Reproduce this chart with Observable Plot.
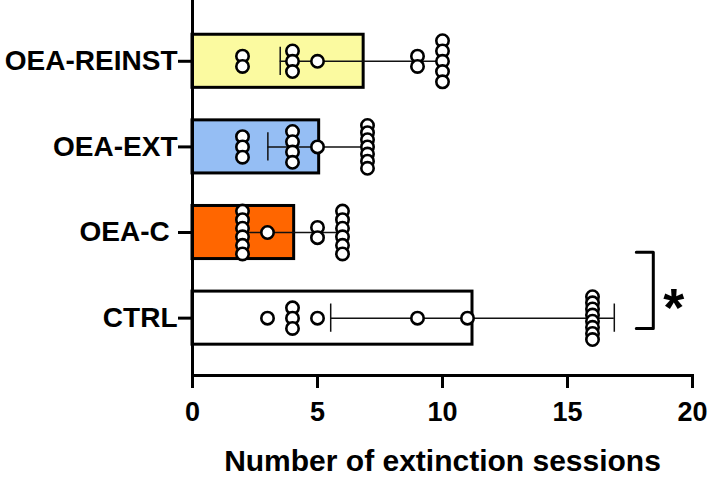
<!DOCTYPE html>
<html>
<head>
<meta charset="utf-8">
<script src="https://cdn.jsdelivr.net/npm/d3@7"></script>
<script src="https://cdn.jsdelivr.net/npm/@observablehq/plot@0.6"></script>
<style>
  html, body { margin: 0; padding: 0; background: #fff; }
</style>
</head>
<body>
<div id="chart"></div>
<script>
// ---- data ----
const groups = ["OEA-REINST", "OEA-EXT", "OEA-C", "CTRL"];
const yTickLabels = ["OEA-REINST", "OEA-EXT", "OEA-C\u00a0", "CTRL"];
const reinstValues = [2, 2, 4, 4, 4, 5, 9, 9, 10, 10, 10, 10, 10];
const extValues = [2, 2, 2, 4, 4, 4, 4, 5, 7, 7, 7, 7, 7, 7, 7];
const oeaCValues = [2, 2, 2, 2, 2, 2, 3, 5, 5, 6, 6, 6, 6, 6, 6];
const ctrlValues = [3, 4, 4, 4, 5, 9, 11, 16, 16, 16, 16, 16, 16, 16, 16];
const barFills = ["#FBFAA0", "#95BEF4", "#FF6600", "#FFFFFF"];
const xTicks = [0, 5, 10, 15, 20];
const xTitle = "Number of extinction sessions";
const significance = [{from: "OEA-C", to: "CTRL", label: "*"}];

const seriesValues = [reinstValues, extValues, oeaCValues, ctrlValues];

// ---- derived tables ----
const stats = groups.map((g, i) => {
  const v = seriesValues[i];
  const mean = d3.mean(v), sd = d3.deviation(v);
  return {group: g, row: i, mean, lo: mean - sd, hi: mean + sd, fill: barFills[i]};
});
const caps = stats.flatMap(d => [{row: d.row, x: d.lo}, {row: d.row, x: d.hi}]);

// stacked (centered) dot layout, like the scatter of the original graph
const points = [];
seriesValues.forEach((v, i) => {
  const counts = d3.rollup(v, a => a.length, d => d);
  const seen = new Map();
  for (const val of v) {
    const k = counts.get(val);
    const j = seen.get(val) || 0;
    seen.set(val, j + 1);
    const s = k > 1 ? Math.min(0.12, 0.5 / (k - 1)) : 0;
    points.push({row: i, value: val, off: (j - (k - 1) / 2) * s});
  }
});

const bracket = significance.map(s => {
  const r1 = groups.indexOf(s.from), r2 = groups.indexOf(s.to);
  const xi = d3.max(stats, d => d.hi) + 0.88;
  const xo = xi + 0.68;
  return {label: s.label, yTop: r1 + 0.23, yBot: r2 + 0.12, xi, xo};
});
const bracketLines = bracket.flatMap((b, k) => [
  {k, x: b.xi, y: b.yTop}, {k, x: b.xo, y: b.yTop},
  {k, x: b.xo, y: b.yBot}, {k, x: b.xi, y: b.yBot}
]);

const font = "'Liberation Sans', Arial, Helvetica, sans-serif";

const chart = Plot.plot({
  width: 708,
  height: 478,
  marginLeft: 192,
  marginRight: 16,
  marginTop: 0,
  marginBottom: 103,
  style: {fontFamily: font, fontWeight: "bold", color: "black", background: "white", overflow: "visible"},
  x: {domain: [0, 20]},
  y: {domain: [3.67, -0.71]},
  color: {type: "identity"},
  marks: [
    Plot.rect(stats, {
      x1: d => 0, x2: "mean",
      y1: d => d.row - 0.31, y2: d => d.row + 0.31,
      fill: "fill", stroke: "black", strokeWidth: 3
    }),
    Plot.ruleY(stats, {y: "row", x1: "lo", x2: "hi", stroke: "#111", strokeWidth: 1.5}),
    Plot.ruleX(caps, {x: "x", y1: d => d.row - 0.165, y2: d => d.row + 0.165, stroke: "#111", strokeWidth: 1.5}),
    Plot.dot(points, {x: "value", y: d => d.row + d.off, r: 6.2, fill: "white", stroke: "black", strokeWidth: 2.6}),
    Plot.ruleX([0], {stroke: "black", strokeWidth: 3}),
    Plot.frame({anchor: "bottom", stroke: "black", strokeWidth: 3}),
    Plot.axisX({ticks: xTicks, tickSize: 13, tickPadding: 13, strokeWidth: 3, fontSize: 27, fontWeight: "bold", label: null, fill: "black"}),
    Plot.axisY({ticks: [0, 1, 2, 3], tickFormat: i => yTickLabels[i], tickSize: 14, tickPadding: 1, strokeWidth: 3, fontSize: 28, fontWeight: "bold", label: null, fill: "black"}),
    Plot.line(bracketLines, {x: "x", y: "y", z: "k", stroke: "black", strokeWidth: 3, curve: "linear"}),
    Plot.text(bracket, {x: d => d.xo + 0.82, y: d => (d.yTop + d.yBot) / 2, text: "label", fontSize: 54, fontWeight: "bold", dy: 18, fill: "black"}),
    Plot.text([xTitle], {text: d => d, frameAnchor: "bottom", dy: 86, fontSize: 30, fontWeight: "bold", lineAnchor: "middle", fill: "black"})
  ]
});
document.getElementById("chart").appendChild(chart);
</script>
</body>
</html>
